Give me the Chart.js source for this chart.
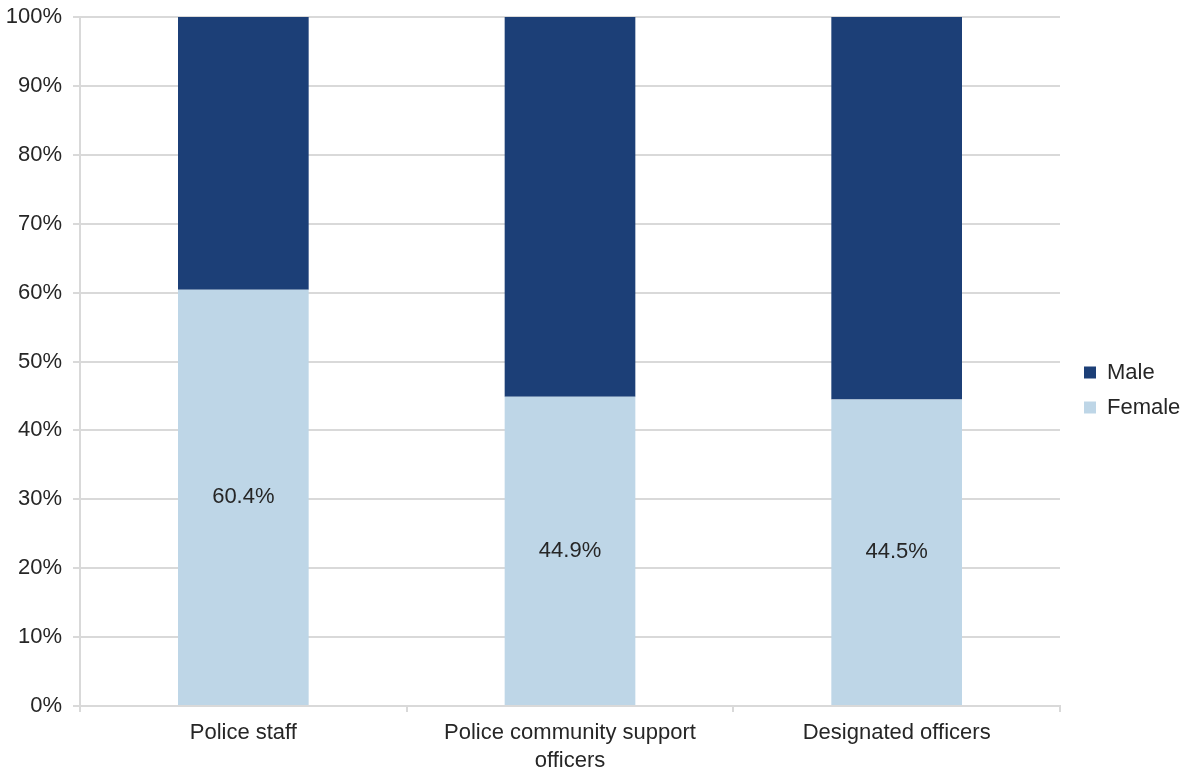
<!DOCTYPE html>
<html><head><meta charset="utf-8">
<script src="https://cdn.jsdelivr.net/npm/chart.js@4"></script>
<style>html,body{margin:0;padding:0;background:#fff}#wrap{width:1181px;height:769px}</style>
</head><body><div id="wrap"><canvas id="c" width="1181" height="769"></canvas></div>
<script>
const categories = [["Police staff"], ["Police community support", "officers"], ["Designated officers"]];
const femaleValues = [60.4, 44.9, 44.5];
const maleValues = [39.6, 55.1, 55.5];
const seriesNames = ["Female", "Male"];
const yTicks = [0,10,20,30,40,50,60,70,80,90,100];

const FONT = '"Liberation Sans", Arial, sans-serif';

const labelPlugin = {
  id: 'femaleLabels',
  afterDatasetsDraw(chart) {
    const ctx = chart.ctx;
    const meta = chart.getDatasetMeta(0);
    ctx.save();
    ctx.font = '22px ' + FONT;
    ctx.fillStyle = '#262626';
    ctx.textAlign = 'center';
    ctx.textBaseline = 'middle';
    meta.data.forEach((bar, i) => {
      const p = bar.getProps(['x','y','base'], true);
      ctx.fillText(femaleValues[i].toFixed(1) + '%', p.x, (p.y + p.base) / 2);
    });
    ctx.restore();
  }
};

const legendFix = {
  id: 'legendFix',
  beforeLayout(chart) {
    const lg = chart.legend;
    if (lg && !lg._fitPatched) {
      const orig = lg.fit.bind(lg);
      lg.fit = function () { orig(); this.width = 121; };
      lg._fitPatched = true;
    }
  },
  afterLayout(chart) {
    const lg = chart.legend;
    if (lg) { lg.left += 11; lg.right += 11; lg.top -= 3; lg.bottom -= 3; }
  }
};

new Chart(document.getElementById('c'), {
  type: 'bar',
  data: {
    labels: categories,
    datasets: [
      { label: seriesNames[0], data: femaleValues, backgroundColor: '#bed6e7', borderWidth: 0 },
      { label: seriesNames[1], data: maleValues, backgroundColor: '#1c3f77', borderWidth: 0 }
    ]
  },
  options: {
    responsive: false,
    animation: false,
    layout: { padding: { top: 17, right: 0, left: 0, bottom: 0 } },
    datasets: { bar: { categoryPercentage: 1.0, barPercentage: 0.4 } },
    plugins: {
      tooltip: { enabled: false },
      legend: {
        position: 'right',
        reverse: true,
        labels: {
          boxWidth: 12, boxHeight: 12, padding: 13,
          color: '#262626',
          font: { size: 22, family: FONT }
        }
      }
    },
    scales: {
      x: {
        stacked: true,
        afterFit(scale) { scale.height = 63; scale.paddingLeft = 0; scale.paddingRight = 0; },
        grid: { display: true, drawOnChartArea: false, drawTicks: true, tickLength: 6, color: '#d9d9d9', lineWidth: 2 },
        border: { color: '#d9d9d9', width: 2 },
        ticks: { color: '#262626', padding: 7, font: { size: 22, family: FONT, lineHeight: 1.27 }, maxRotation: 0 }
      },
      y: {
        stacked: true,
        min: 0, max: 100,
        afterFit(scale) { scale.width = 80; scale.paddingTop = 0; scale.paddingBottom = 0; },
        afterBuildTicks(scale) { scale.ticks = yTicks.map(v => ({ value: v })); },
        grid: { color: '#d9d9d9', lineWidth: 2, tickLength: 7 },
        border: { color: '#d9d9d9', width: 2 },
        ticks: { color: '#262626', padding: 11, font: { size: 22, family: FONT }, callback: v => v + '%' }
      }
    }
  },
  plugins: [labelPlugin, legendFix]
});
</script></body></html>
